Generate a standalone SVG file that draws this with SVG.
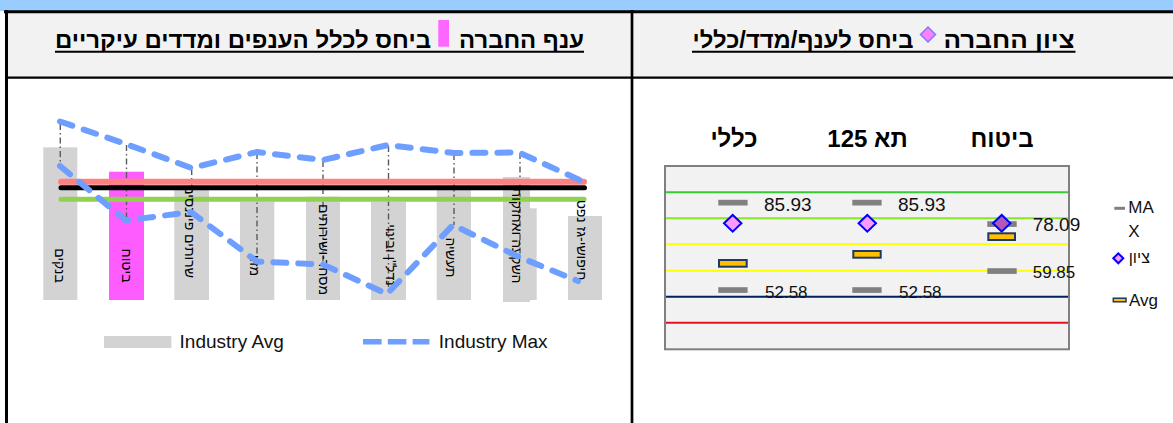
<svg xmlns="http://www.w3.org/2000/svg" width="1173" height="423" viewBox="0 0 1173 423">
<style>
  text { font-family: "Liberation Sans", Arial, "DejaVu Sans", sans-serif; fill: #000; }
  .hdr { font-size: 23px; font-weight: bold; }
  .cat { font-size: 14px; }
  .ttl { font-size: 24px; font-weight: bold; }
  .val { font-size: 19px; fill: #111; }
  .lg  { font-size: 19px; fill: #111; }
  .lg2 { font-size: 16px; fill: #111; }
  .bar { fill: #D3D3D3; }
  .hl  { stroke: #5A5A5A; stroke-width: 1.4; stroke-dasharray: 6 3 1.5 3; fill: none; }
  .dash { fill: none; stroke: #6E9EFF; stroke-width: 6; stroke-dasharray: 13 12; stroke-linecap: round; stroke-linejoin: round; }
  .mx { fill: #808080; }
  .avg { fill: #FFC000; stroke: #1F3864; stroke-width: 2; }
  .dia { fill: #FF99FF; stroke: #0000FF; stroke-width: 2; }
  .grid { stroke-width: 2; }
</style>

<!-- background / table frame -->
<g id="frame">
  <rect x="0" y="0" width="1173" height="423" fill="#FFFFFF"/>
  <rect x="0" y="0" width="1173" height="11" fill="#99CCFF"/>
  <rect x="6" y="12" width="1167" height="65" fill="#F2F2F2"/>
  <line x1="4" y1="11.7" x2="1173" y2="11.7" stroke="#000" stroke-width="3"/>
  <line x1="5" y1="77.7" x2="1173" y2="77.7" stroke="#000" stroke-width="2.2"/>
  <line x1="6.5" y1="10" x2="6.5" y2="423" stroke="#000" stroke-width="3"/>
  <line x1="632" y1="10" x2="632" y2="423" stroke="#000" stroke-width="2.7"/>
</g>

<!-- left header -->
<g id="header-left">
  <text class="hdr" x="243" y="48.3" text-anchor="middle" direction="rtl" textLength="376" lengthAdjust="spacingAndGlyphs">ביחס לכלל הענפים ומדדים עיקריים</text>
  <rect x="438.3" y="20" width="10.7" height="26.7" fill="#FF66FF"/>
  <text class="hdr" x="521.5" y="48.3" text-anchor="middle" direction="rtl" textLength="125" lengthAdjust="spacingAndGlyphs">ענף החברה</text>
  <line x1="55" y1="51.8" x2="584" y2="51.8" stroke="#000" stroke-width="2"/>
</g>

<!-- right header -->
<g id="header-right">
  <text class="hdr" x="803" y="48.3" text-anchor="middle" direction="rtl" textLength="221" lengthAdjust="spacingAndGlyphs">ביחס לענף/מדד/כללי</text>
  <polygon points="920.5,34.5 928,27 935.5,34.5 928,42" fill="#FF80FF" stroke="#7B7BFF" stroke-width="1.5"/>
  <text class="hdr" x="1009" y="48.3" text-anchor="middle" direction="rtl" textLength="131" lengthAdjust="spacingAndGlyphs">ציון החברה</text>
  <line x1="692" y1="51.8" x2="1075.5" y2="51.8" stroke="#000" stroke-width="2"/>
</g>

<!-- left chart -->
<g id="chart-left">
  <g id="bars">
    <rect class="bar" x="43.3" y="147.3" width="34" height="152.7"/>
    <rect x="109" y="171.7" width="35" height="128.3" fill="#FF5CFF"/>
    <rect class="bar" x="174.3" y="188" width="34.7" height="112"/>
    <rect class="bar" x="240" y="201.7" width="34.3" height="98.3"/>
    <rect class="bar" x="306" y="196.7" width="34" height="103.3"/>
    <rect class="bar" x="371" y="201.7" width="35" height="98.3"/>
    <rect class="bar" x="436.7" y="190" width="34.3" height="110"/>
    <rect class="bar" x="503" y="208.3" width="33.7" height="91.7"/>
    <rect class="bar" x="503" y="177" width="27" height="125"/>
    <rect class="bar" x="568" y="216" width="34" height="84"/>
  </g>
  <g id="high-low">
    <line class="hl" x1="60.3" y1="124" x2="60.3" y2="166"/>
    <line class="hl" x1="126.5" y1="145" x2="126.5" y2="221"/>
    <line class="hl" x1="191.7" y1="169" x2="191.7" y2="212"/>
    <line class="hl" x1="257" y1="153" x2="257" y2="262"/>
    <line class="hl" x1="323" y1="161" x2="323" y2="264"/>
    <line class="hl" x1="388.5" y1="146" x2="388.5" y2="294"/>
    <line class="hl" x1="454" y1="154" x2="454" y2="225"/>
    <line class="hl" x1="520" y1="153" x2="520" y2="258"/>
  </g>
  <g id="levels" stroke-linecap="round">
    <line x1="61" y1="181.7" x2="584" y2="181.7" stroke="#FF8080" stroke-width="6"/>
    <line x1="61" y1="187.7" x2="584.5" y2="187.7" stroke="#000000" stroke-width="5"/>
    <line x1="61" y1="199.3" x2="584" y2="199.3" stroke="#92D050" stroke-width="5"/>
  </g>
  <g id="categories">
    <text class="cat" transform="translate(60,265.5) rotate(90)" text-anchor="middle" dominant-baseline="central" direction="rtl">בנקים</text>
    <text class="cat" transform="translate(126.5,265.5) rotate(90)" text-anchor="middle" dominant-baseline="central" direction="rtl">ביטוח</text>
    <text class="cat" transform="translate(190,231.5) rotate(90)" text-anchor="middle" dominant-baseline="central" direction="rtl">שרותים פיננסים</text>
    <text class="cat" transform="translate(255,265.5) rotate(90)" text-anchor="middle" dominant-baseline="central" direction="rtl">מזון</text>
    <text class="cat" transform="translate(324,249.5) rotate(90)" text-anchor="middle" dominant-baseline="central" direction="rtl">מסחר-ושירותים</text>
    <text class="cat" transform="translate(391,255) rotate(90)" text-anchor="middle" dominant-baseline="central" direction="rtl">נדל"ן ובינוי</text>
    <text class="cat" transform="translate(451,257.5) rotate(90)" text-anchor="middle" dominant-baseline="central" direction="rtl">תעשיה</text>
    <text class="cat" transform="translate(517,235.5) rotate(90)" text-anchor="middle" dominant-baseline="central" direction="rtl">השקעה ואחזקות</text>
    <text class="cat" transform="translate(582,240) rotate(90)" text-anchor="middle" dominant-baseline="central" direction="rtl">חיפושי-גז נפט</text>
  </g>
  <g id="series">
    <polyline class="dash" points="60,121.5 126,144 191.5,168 257,152 323,160 388,145 454,153 519,152.5 584,182"/>
    <polyline class="dash" points="60,166 126,220.5 191,212 257,261.5 323,264.5 387,294 453,225 519,257 578,281"/>
  </g>
  <g id="legend-left">
    <rect x="104" y="336" width="67.4" height="12" fill="#D3D3D3"/>
    <text class="lg" x="179.6" y="348.3">Industry Avg</text>
    <line x1="363" y1="341.8" x2="429.4" y2="341.8" stroke="#6E9EFF" stroke-width="5.5" stroke-dasharray="18.6 6.2"/>
    <text class="lg" x="438.8" y="348.3">Industry Max</text>
  </g>
</g>

<!-- right chart -->
<g id="chart-right">
  <g id="titles">
    <text class="ttl" x="734" y="146.7" text-anchor="middle" direction="rtl">כללי</text>
    <text class="ttl" x="867.5" y="146.7" text-anchor="middle">תא 125</text>
    <text class="ttl" x="1002" y="146.7" text-anchor="middle" direction="rtl">ביטוח</text>
  </g>
  <rect x="665" y="166" width="404" height="183.3" fill="#F2F2F2" stroke="#808080" stroke-width="2"/>
  <g id="grid" class="grid">
    <line x1="666" y1="192.3" x2="1068" y2="192.3" stroke="#33CC33"/>
    <line x1="666" y1="218.3" x2="1068" y2="218.3" stroke="#88E62A"/>
    <line x1="666" y1="244.3" x2="1068" y2="244.3" stroke="#FFFF00"/>
    <line x1="666" y1="270.7" x2="1068" y2="270.7" stroke="#FFFF00"/>
    <line x1="666" y1="296.7" x2="1068" y2="296.7" stroke="#002060"/>
    <line x1="666" y1="322.7" x2="1068" y2="322.7" stroke="#E8101E"/>
  </g>
  <g id="col-general">
    <rect class="mx" x="718.3" y="199.8" width="29.3" height="5.7"/>
    <rect class="mx" x="718.3" y="287.2" width="29.3" height="5.7"/>
    <polygon class="dia" points="724,223.3 732.7,215 741.4,223.3 732.7,231.6"/>
    <rect class="avg" x="719" y="260" width="27.7" height="6.7"/>
    <text class="val" x="764" y="211">85.93</text>
    <text class="val" x="765" y="298.3" style="font-size:17px">52.58</text>
  </g>
  <g id="col-ta125">
    <rect class="mx" x="852.3" y="199.8" width="29.3" height="5.7"/>
    <rect class="mx" x="852.3" y="287.2" width="29.3" height="5.7"/>
    <polygon class="dia" points="858.6,223.3 867.3,215 876,223.3 867.3,231.6"/>
    <rect class="avg" x="853.3" y="251" width="27.4" height="6.7"/>
    <text class="val" x="898" y="211">85.93</text>
    <text class="val" x="899" y="298.3" style="font-size:17px">52.58</text>
  </g>
  <g id="col-insurance">
    <rect class="mx" x="987.3" y="221.2" width="29.4" height="5.7"/>
    <rect class="mx" x="987.3" y="268.2" width="29.4" height="5.7"/>
    <polygon class="dia" points="993,223.3 1001.7,215 1010.4,223.3 1001.7,231.6" style="fill:#B05AB8"/>
    <rect class="avg" x="988.3" y="233.3" width="26.7" height="6.7"/>
    <text class="val" x="1032.7" y="230.7">78.09</text>
    <text class="val" x="1032.7" y="278.3" style="font-size:17px">59.85</text>
  </g>
  <g id="legend-right">
    <line x1="1114.3" y1="208.3" x2="1125" y2="208.3" stroke="#808080" stroke-width="3"/>
    <text class="lg2" x="1128.3" y="213.3" style="font-size:17px">MA</text>
    <text class="lg2" x="1128.3" y="236.7" style="font-size:17px">X</text>
    <polygon class="dia" points="1113.3,258.3 1118.3,253.3 1123.3,258.3 1118.3,263.3"/>
    <text class="lg2" x="1139.3" y="263.3" text-anchor="middle" direction="rtl">ציון</text>
    <rect x="1113.3" y="298.2" width="12.7" height="3.6" fill="#FFC000" stroke="#1F3864" stroke-width="1.5"/>
    <text class="lg2" x="1129" y="306" style="font-size:17px">Avg</text>
  </g>
</g>
</svg>
